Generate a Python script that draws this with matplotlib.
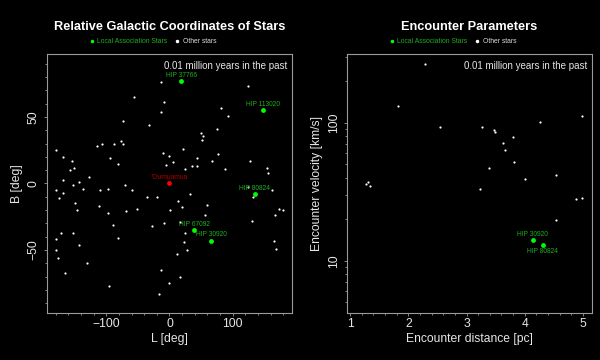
import matplotlib.pyplot as plt
from matplotlib.lines import Line2D
from matplotlib.ticker import MultipleLocator, LogLocator, FixedLocator, NullFormatter

plt.rcParams['font.family'] = ['Liberation Sans', 'DejaVu Sans']

# ---- left panel: relative galactic coordinates ----
other_l = [-14, 125, -56, -8, 82, -14, 93, -74, -32, 76, 50, 53, 51, -76,
           -179, -115, -107, -88, -74, 21, -169, -94, -10, -1, 44, 77, 128,
           -154, -81, 5, 68, -151, -158, -6, 36, 43, 25, 88, 155, 156, -127,
           -169, -144, -152, -71, -137, -179, -110, -98, -59, -169, 32, 125,
           133, 162, -175, -36, -20, 14, -150, 60, -146, -111, -98, -69, -51,
           1, 20, 173, 179, 167, 56, 131, -90, -8, -28, 17,
           -172, -153, -82, 25, -179, 23, 166, -144, 169, -179, 28, 12, -177,
           -130, -166, -13, 17, -95, 0, -16]
other_b = [76, 73, 65, 61, 57, 54, 51, 47, 44, 41, 38, 36, 33, 32,
           25, 28, 30, 30, 30, 26, 20, 19, 23, 21, 19, 22, 17,
           17, 15, 16, 17, 12, 10, 14, 13, 13, 11, 11, 12, 8, 5,
           3, 1, -1, -1, -4, -5, -5, -4, -5, -7, -8, -3,
           -10, -5, -11, -10, -10, -13, -15, -16, -20, -17, -22, -21, -19,
           -20, -18, -19, -20, -24, -24, -28, -31, -30, -32, -29,
           -37, -37, -41, -37, -42, -44, -43, -46, -49, -50, -50, -53, -56,
           -60, -67, -65, -70, -77, -75, -83]

local_names = ['HIP 37766', 'HIP 113020', 'HIP 80824', 'HIP 67092', 'HIP 30920']
local_l = [19, 148, 135, 39, 66]
local_b = [77, 55, -8, -35, -43]

oumuamua_l = [0]
oumuamua_b = [0]

# ---- right panel: encounter parameters ----
other_dist = [2.28, 1.82, 2.55, 3.27, 3.48, 3.49, 3.80, 4.27, 4.99, 3.63,
              3.66, 3.82, 3.38, 4.00, 4.54, 1.27, 1.30, 1.34, 3.23, 4.88,
              4.99, 4.54]
other_vel = [266, 133, 92.6, 92.6, 88.5, 86, 78.3, 101, 112, 71.3,
             63.1, 51.6, 47.2, 38.9, 41.6, 36, 37, 34.9, 32.9, 27.8,
             28.3, 19.8]

enc_names = ['HIP 30920', 'HIP 80824']
enc_dist = [4.14, 4.31]
enc_vel = [14.1, 12.9]

green = '#00ff00'
green_text = '#1fae1f'
grey = '#9a9a9a'

fig = plt.figure(figsize=(6, 3.6), dpi=100, facecolor='black')
ax1 = fig.add_axes([0.0778, 0.1314, 0.4093, 0.7178], facecolor='black')
ax2 = fig.add_axes([0.5778, 0.1314, 0.4093, 0.7178], facecolor='black')


def style_axes(ax):
    for s in ax.spines.values():
        s.set_color(grey)
        s.set_linewidth(0.8)
    ax.tick_params(which='both', direction='out', colors=grey, labelcolor='#e6e6e6',
                   width=0.6, labelsize=8.7)
    ax.tick_params(which='major', length=2.5)
    ax.tick_params(which='minor', length=1.5)
    ax.tick_params(axis='x', pad=1.5)
    ax.tick_params(axis='y', pad=2.5, labelrotation=90)
    for t in ax.get_yticklabels():
        t.set_va('center')


def add_legend(ax, xc):
    handles = [Line2D([], [], ls='', marker='.', color=green, markersize=3),
               Line2D([], [], ls='', marker='.', color='white', markersize=3)]
    leg = ax.legend(handles, ['Local Association Stars', 'Other stars'], ncol=2,
                    loc='center', bbox_to_anchor=(xc, 1.048), frameon=False,
                    fontsize=4.9, handlelength=0.6, handletextpad=0.5,
                    columnspacing=1.1, borderaxespad=0)
    leg.get_texts()[0].set_color(green_text)
    leg.get_texts()[1].set_color('#dddddd')


# left panel
ax1.scatter(other_l, other_b, s=2.5, color='white', linewidths=0)
ax1.scatter(local_l, local_b, s=12, color=green, linewidths=0)
ax1.scatter(oumuamua_l, oumuamua_b, s=12, color='red', linewidths=0)
for name, x, y in zip(local_names, local_l, local_b):
    ax1.annotate(name, (x, y), xytext=(0, 4.3), textcoords='offset points',
                 ha='center', va='center', fontsize=4.8, color=green_text)
ax1.annotate("'Oumuamua", (oumuamua_l[0], oumuamua_b[0]), xytext=(0, 4.3),
             textcoords='offset points', ha='center', va='center',
             fontsize=4.8, color='#b00000')
ax1.set_xlim(-194.4, 194.4)
ax1.set_ylim(-97.2, 97.2)
ax1.xaxis.set_major_locator(FixedLocator([-100, 0, 100]))
ax1.xaxis.set_minor_locator(MultipleLocator(20))
ax1.yaxis.set_major_locator(FixedLocator([-50, 0, 50]))
ax1.yaxis.set_minor_locator(MultipleLocator(10))
ax1.set_xlabel('L [deg]', color='#e6e6e6', fontsize=8.7, va='center')
ax1.set_ylabel('B [deg]', color='#e6e6e6', fontsize=8.7, va='center')
ax1.xaxis.set_label_coords(0.5, -0.102)
ax1.yaxis.set_label_coords(-0.121, 0.5)
ax1.text(0.98, 0.955, '0.01 million years in the past', transform=ax1.transAxes,
         ha='right', va='center', fontsize=7, color='#e6e6e6')
style_axes(ax1)
add_legend(ax1, 0.433)

# right panel
ax2.scatter(other_dist, other_vel, s=2.5, color='white', linewidths=0)
ax2.scatter(enc_dist, enc_vel, s=12, color=green, linewidths=0)
ax2.annotate(enc_names[0], (enc_dist[0], enc_vel[0]), xytext=(0, 4.3),
             textcoords='offset points', ha='center', va='center',
             fontsize=4.8, color=green_text)
ax2.annotate(enc_names[1], (enc_dist[1], enc_vel[1]), xytext=(0, -4.3),
             textcoords='offset points', ha='center', va='center',
             fontsize=4.8, color=green_text)
ax2.set_yscale('log')
ax2.set_xlim(0.94, 5.16)
ax2.set_ylim(4.2, 313)
ax2.xaxis.set_major_locator(MultipleLocator(1))
ax2.xaxis.set_minor_locator(MultipleLocator(0.2))
ax2.yaxis.set_major_locator(FixedLocator([10, 100]))
ax2.yaxis.set_minor_locator(LogLocator(base=10, subs=range(2, 10)))
ax2.yaxis.set_minor_formatter(NullFormatter())
ax2.set_yticklabels(['10', '100'])
ax2.set_xlabel('Encounter distance [pc]', color='#e6e6e6', fontsize=8.7, va='center')
ax2.set_ylabel('Encounter velocity [km/s]', color='#e6e6e6', fontsize=8.7, va='center')
ax2.xaxis.set_label_coords(0.5, -0.102)
ax2.yaxis.set_label_coords(-0.121, 0.5)
ax2.text(0.98, 0.955, '0.01 million years in the past', transform=ax2.transAxes,
         ha='right', va='center', fontsize=7, color='#e6e6e6')
style_axes(ax2)
add_legend(ax2, 0.433)

fig.text(0.2825, 0.925, 'Relative Galactic Coordinates of Stars', ha='center',
         va='center', fontsize=9.2, fontweight='bold', color='white')
fig.text(0.7825, 0.925, 'Encounter Parameters', ha='center',
         va='center', fontsize=9.2, fontweight='bold', color='white')

fig.savefig('out.png', dpi=100, facecolor='black')
